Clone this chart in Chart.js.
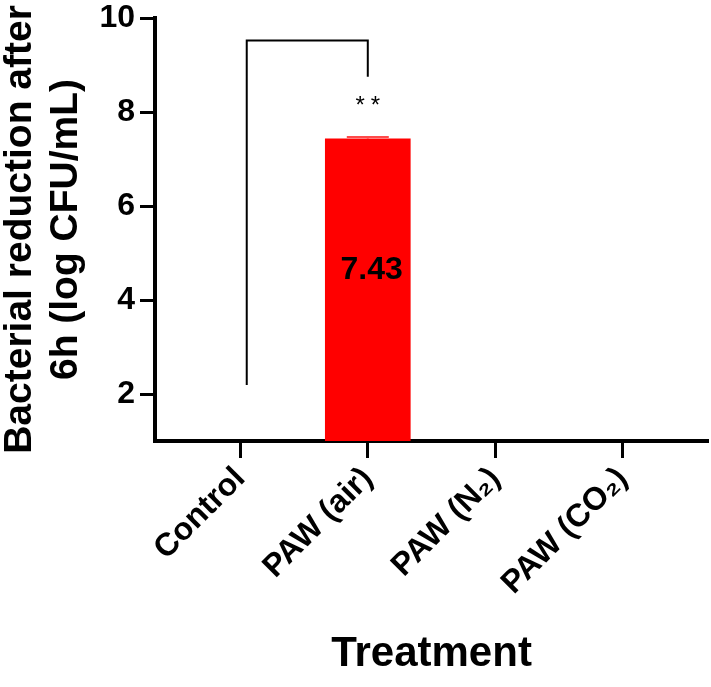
<!DOCTYPE html>
<html>
<head>
<meta charset="utf-8">
<script src="https://cdn.jsdelivr.net/npm/chart.js@4.4.1/dist/chart.umd.min.js"></script>
<style>
  body { margin: 0; background: #fff; }
  canvas { display: block; }
</style>
</head>
<body>
<canvas id="chart" width="711" height="687"></canvas>
<script>
// data
var treatments = ['Control', 'PAW (air)', 'PAW (N\u2082)', 'PAW (CO\u2082)'];
var reduction = [null, 7.43, null, null];
var reductionSD = [null, 0.04, null, null];
var yTicks = [2, 4, 6, 8, 10];

// significance bracket: x from/to (category index), y left foot, top, right foot
var bracketX = [0.05, 1];
var bracketY = [2.19, 9.52, 8.75];
var starsText = '**';
var starsPos = [1, 8.28];
var valueLabelPos = [1.03, 4.64];

var FONT = 'Arial, "Liberation Sans", sans-serif';
Chart.defaults.font.family = FONT;
Chart.defaults.color = '#000';

// draws error bar, value label, bracket and stars
var extras = {
    id: 'extras',
    afterDatasetsDraw: function (chart) {
        var ctx = chart.ctx;
        var xs = chart.scales.x;
        var ys = chart.scales.y;
        ctx.save();

        // error bars (upper only)
        for (var i = 0; i < reduction.length; i++) {
            if (reduction[i] == null || reductionSD[i] == null) continue;
            var px = xs.getPixelForValue(i);
            var yBar = ys.getPixelForValue(reduction[i]);
            var yTop = ys.getPixelForValue(reduction[i] + reductionSD[i]);
            ctx.strokeStyle = '#ff4a4a';
            ctx.lineWidth = 2;
            ctx.beginPath();
            ctx.moveTo(px, yBar);
            ctx.lineTo(px, yTop);
            ctx.moveTo(px - 21, yTop);
            ctx.lineTo(px + 21, yTop);
            ctx.stroke();
        }

        // value label inside the bar
        ctx.fillStyle = '#000';
        ctx.font = 'bold 32px ' + FONT;
        ctx.textAlign = 'center';
        ctx.textBaseline = 'middle';
        ctx.fillText(reduction[1].toFixed(2), xs.getPixelForValue(valueLabelPos[0]), ys.getPixelForValue(valueLabelPos[1]));

        // bracket
        var x0 = xs.getPixelForValue(bracketX[0]);
        var x1 = xs.getPixelForValue(bracketX[1]);
        ctx.strokeStyle = '#000';
        ctx.lineWidth = 2;
        ctx.beginPath();
        ctx.moveTo(x0, ys.getPixelForValue(bracketY[0]));
        ctx.lineTo(x0, ys.getPixelForValue(bracketY[1]));
        ctx.lineTo(x1, ys.getPixelForValue(bracketY[1]));
        ctx.lineTo(x1, ys.getPixelForValue(bracketY[2]));
        ctx.stroke();

        // stars
        ctx.font = '24px ' + FONT;
        ctx.textBaseline = 'alphabetic';
        if ('letterSpacing' in ctx) ctx.letterSpacing = '6px';
        ctx.fillText(starsText, xs.getPixelForValue(starsPos[0]) + 3, ys.getPixelForValue(starsPos[1]) + 14);
        ctx.restore();
    }
};

var ctx = document.getElementById('chart');
var Graph = new Chart(ctx, {
    type: 'bar',
    data: {
        datasets: [{
            data: treatments.map(function (t, i) { return { x: i, y: reduction[i] }; }),
            backgroundColor: '#ff0000',
            borderWidth: 0,
            barThickness: 85
        }]
    },
    options: {
        responsive: false,
        animation: false,
        layout: { padding: { top: 0, right: 3, bottom: 0, left: 0 } },
        plugins: {
            legend: { display: false },
            tooltip: { enabled: false }
        },
        scales: {
            x: {
                type: 'linear',
                offset: false,
                min: -0.67,
                max: 3.67,
                afterBuildTicks: function (scale) {
                    scale.ticks = treatments.map(function (t, i) { return { value: i }; });
                },
                afterFit: function (scale) { scale.height = 246; },
                ticks: {
                    autoSkip: false,
                    minRotation: 45,
                    maxRotation: 45,
                    padding: 2,
                    font: { size: 32, weight: 'bold' },
                    callback: function (value) { return treatments[value]; }
                },
                grid: {
                    offset: false,
                    drawOnChartArea: false,
                    drawTicks: true,
                    tickLength: 17,
                    tickWidth: 3,
                    tickColor: '#000'
                },
                border: { display: true, color: '#000', width: 4 },
                title: {
                    display: true,
                    text: 'Treatment',
                    font: { size: 42, weight: 'bold' },
                    padding: { top: 0, bottom: 7 }
                }
            },
            y: {
                min: 1,
                max: 10,
                afterBuildTicks: function (scale) {
                    scale.ticks = yTicks.map(function (v) { return { value: v }; });
                },
                afterFit: function (scale) {
                    scale.width = 155;
                    scale.paddingTop = 18;
                },
                ticks: {
                    padding: 5,
                    font: { size: 32, weight: 'bold' }
                },
                grid: {
                    drawOnChartArea: false,
                    drawTicks: true,
                    tickLength: 15,
                    tickWidth: 3,
                    tickColor: '#000'
                },
                border: { display: true, color: '#000', width: 4 },
                title: {
                    display: true,
                    text: ['Bacterial reduction after', '6h (log CFU/mL)'],
                    font: { size: 39, weight: 'bold', lineHeight: 1.18 },
                    padding: { top: -3, bottom: 0 }
                }
            }
        }
    },
    plugins: [extras]
});
</script>
</body>
</html>
